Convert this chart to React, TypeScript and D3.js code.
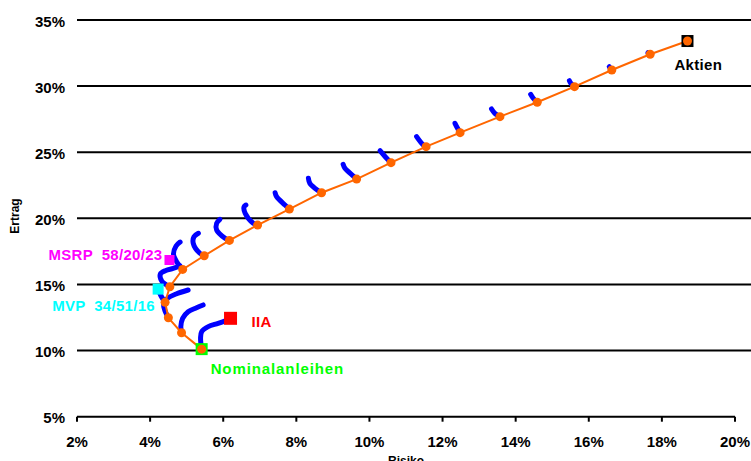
import React from "react";
import * as d3 from "d3";

const W = 751;
const H = 461;

const xTicks = [2, 4, 6, 8, 10, 12, 14, 16, 18, 20];
const yTicks = [5, 10, 15, 20, 25, 30, 35];

// Efficient frontier (risk %, return %)
const frontierRisk = [5.41, 4.86, 4.5, 4.41, 4.54, 4.89, 5.48, 6.17, 6.94, 7.81, 8.69, 9.65, 10.59, 11.55, 12.48, 13.57, 14.59, 15.61, 16.63, 17.68, 18.7];
const frontierReturn = [10.11, 11.35, 12.48, 13.65, 14.83, 16.14, 17.17, 18.33, 19.49, 20.7, 21.94, 22.97, 24.21, 25.42, 26.48, 27.69, 28.78, 29.96, 31.22, 32.41, 33.41];

// Blue tails: portfolios mixing in IIA, starting from each frontier point
const tails: [number, number][][] = [
  [[5.41, 10.12], [5.38, 10.93], [5.41, 11.43], [5.59, 11.81], [5.86, 12.06], [6.11, 12.31]],
  [[4.86, 11.35], [4.84, 11.81], [4.89, 12.44], [5.04, 12.94], [5.27, 13.24], [5.45, 13.45]],
  [[4.5, 12.49], [4.41, 12.99], [4.37, 13.45], [4.49, 13.98], [4.71, 14.28], [5.04, 14.58]],
  [[4.41, 13.65], [4.3, 14.13], [4.23, 14.58]],
  [[4.54, 14.83], [4.32, 15.26], [4.28, 15.79], [4.43, 16.06], [4.63, 16.21], [4.82, 16.4]],
  [[4.89, 16.15], [4.73, 16.7], [4.64, 17.3], [4.71, 17.91], [4.82, 18.21]],
  [[5.48, 17.18], [5.36, 17.36], [5.18, 18.11], [5.2, 18.61], [5.32, 18.87]],
  [[6.17, 18.31], [6.05, 18.49], [5.82, 19.12], [5.82, 19.63], [5.91, 19.93]],
  [[6.94, 19.5], [6.82, 19.63], [6.6, 20.38], [6.57, 20.88], [6.62, 21.01]],
  [[7.81, 20.71], [7.69, 21.01], [7.46, 21.64], [7.42, 21.94]],
  [[8.69, 21.94], [8.6, 22.09], [8.37, 22.65], [8.33, 23.03]],
  [[9.65, 22.98], [9.56, 23.2], [9.33, 23.79], [9.28, 24.09]],
  [[10.59, 24.21], [10.47, 24.54], [10.29, 25.12]],
  [[11.55, 25.42], [11.47, 25.55], [11.29, 26.18]],
  [[12.48, 26.48], [12.41, 26.81], [12.34, 27.19]],
  [[13.57, 27.69], [13.43, 27.94], [13.34, 28.27]],
  [[14.59, 28.78], [14.48, 29.08], [14.41, 29.38]],
  [[15.61, 29.96], [15.51, 30.21], [15.47, 30.41]],
  [[16.63, 31.22], [16.56, 31.47]],
  [[17.68, 32.41], [17.62, 32.53]],
];

// Special portfolios
const markerNames = ["Nominalanleihen", "Aktien", "IIA", "MVP", "MSRP"];
const markerRisk = [5.41, 18.7, 6.2, 4.22, 4.53];
const markerReturn = [10.11, 33.41, 12.44, 14.65, 16.85];
const markerColors = ["#00ff00", "#000000", "#ff0000", "#00ffff", "#ff00ff"];
const markerSizes = [12, 12, 13, 11, 10];

const labelTexts = ["Nominalanleihen", "Aktien", "IIA", "MVP  34/51/16", "MSRP  58/20/23"];

const ORANGE = "#ff6600";
const BLUE = "#0000ff";
const FONT = "'Liberation Sans', Arial, sans-serif";

export default function App() {
  const x = d3.scaleLinear().domain([2, 20]).range([77, 735]);
  const y = d3.scaleLinear().domain([5, 35]).range([416.7, 20]);

  const frontier = frontierRisk.map((r, i) => [r, frontierReturn[i]] as [number, number]);
  const line = d3
    .line<[number, number]>()
    .x((d) => x(d[0]))
    .y((d) => y(d[1]));
  const tailLine = d3
    .line<[number, number]>()
    .x((d) => x(d[0]))
    .y((d) => y(d[1]))
    .curve(d3.curveCatmullRom.alpha(0.5));

  // label placement offsets relative to marker (px)
  const labelPos: [number, number][] = [
    [x(5.41) + 9, y(10.11) + 25],
    [x(18.7) - 13, y(33.41) + 29],
    [x(6.2) + 21, y(12.44) + 9],
    [x(4.22) - 106, y(14.65) + 22],
    [x(4.53) - 121, y(16.85) + 0],
  ];

  return (
    <div style={{ position: "absolute", left: 0, top: 0 }}>
      <svg width={W} height={H} style={{ display: "block", background: "#fff" }}>
        {/* gridlines */}
        {yTicks.filter((t) => t > 5).map((t) => (
          <line key={t} x1={77} x2={751} y1={y(t)} y2={y(t)} stroke="#000" strokeWidth={2} />
        ))}
        {/* x axis */}
        <line x1={77} x2={735} y1={y(5)} y2={y(5)} stroke="#000" strokeWidth={2} />
        {xTicks.map((t) => (
          <line key={t} x1={x(t)} x2={x(t)} y1={y(5)} y2={y(5) + 5} stroke="#000" strokeWidth={2} />
        ))}
        {xTicks.map((t) => (
          <text key={t} x={x(t)} y={447} textAnchor="middle" fontFamily={FONT} fontWeight="bold" fontSize={15}>
            {t}%
          </text>
        ))}
        {yTicks.map((t) => (
          <text key={t} x={65} y={y(t) + 6.5} textAnchor="end" fontFamily={FONT} fontWeight="bold" fontSize={15}>
            {t}%
          </text>
        ))}
        <text x={406} y={465} textAnchor="middle" fontFamily={FONT} fontWeight="bold" fontSize={12}>
          Risiko
        </text>
        <text
          transform={`translate(19,216) rotate(-90)`}
          textAnchor="middle"
          fontFamily={FONT}
          fontWeight="bold"
          fontSize={12}
        >
          Ertrag
        </text>

        {/* blue tails */}
        {tails.map((t, i) => (
          <path
            key={i}
            d={tailLine(t) || ""}
            fill="none"
            stroke={BLUE}
            strokeWidth={5}
            strokeLinecap="round"
            strokeLinejoin="round"
          />
        ))}

        {/* frontier */}
        <path d={line(frontier) || ""} fill="none" stroke={ORANGE} strokeWidth={2} />

        {/* markers */}
        {markerNames.map((n, i) => {
          const s = markerSizes[i];
          return (
            <rect
              key={n}
              x={x(markerRisk[i]) - s / 2}
              y={y(markerReturn[i]) - s / 2}
              width={s}
              height={s}
              fill={markerColors[i]}
            />
          );
        })}

        {frontier.map((d, i) => (
          <circle key={i} cx={x(d[0])} cy={y(d[1])} r={4.5} fill={ORANGE} />
        ))}

        {/* labels */}
        {labelTexts.map((t, i) => (
          <text
            key={t}
            x={labelPos[i][0]}
            y={labelPos[i][1]}
            fill={markerColors[i]}
            fontFamily={FONT}
            fontWeight="bold"
            fontSize={15}
            letterSpacing={i === 0 ? 0.9 : 0.3}
            style={{ whiteSpace: "pre" }}
          >
            {t}
          </text>
        ))}
      </svg>
    </div>
  );
}
